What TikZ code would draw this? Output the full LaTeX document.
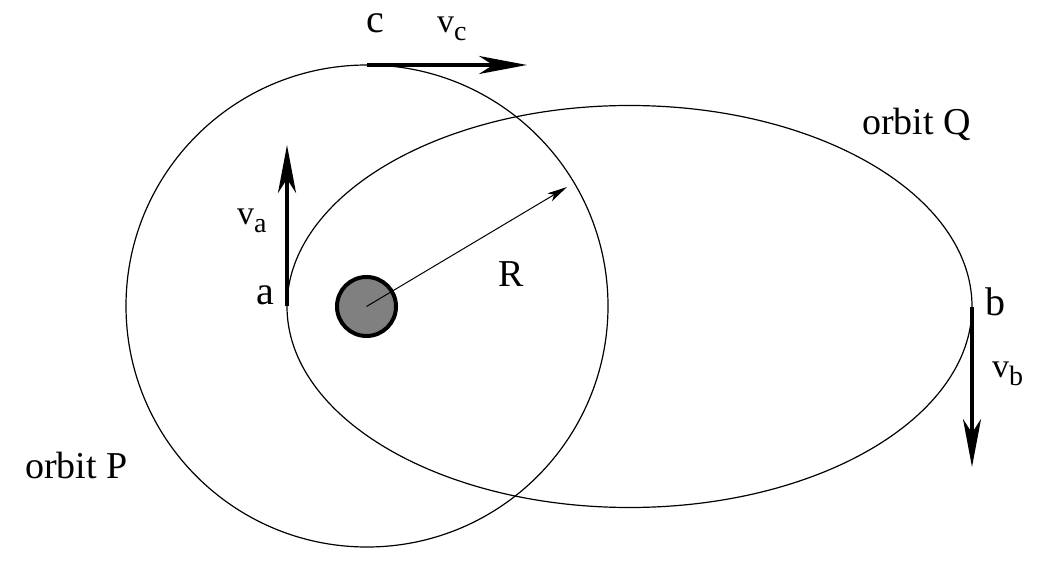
\documentclass[tikz,border=0pt]{standalone}
\usepackage{fontspec}
\setmainfont{Liberation Serif}
\usetikzlibrary{arrows.meta, positioning}
\tikzset{
x=1pt, y=-1pt, % pixel-like units, y pointing down
orbit/.style={line width=1.2pt}, % the two orbits
velocity/.style={line width=4pt, -{Stealth[length=48pt, width=18pt, inset=14pt]}}, % bold velocity vectors
radius arrow/.style={line width=1pt, -{Stealth[length=20pt, width=9pt, inset=5pt]}}, % thin radius arrow
point label/.style={inner sep=0pt, anchor=base west, font=\fontsize{40}{40}\selectfont}, % a, b, c
orbit label/.style={inner sep=0pt, anchor=base west, font=\fontsize{38}{38}\selectfont}, % orbit names and R
vel label/.style={inner sep=0pt, anchor=base west, font=\fontsize{34}{34}\selectfont}, % v with subscript
}
\newcommand{\velsub}[1]{v\raisebox{-8pt}{\fontsize{28}{28}\selectfont #1}}

\begin{document}
\begin{tikzpicture}
    \useasboundingbox (0,0) rectangle (1041,561);
    % orbits
    \draw[orbit] (367,306) circle[radius=241pt];
    \draw[orbit] (629.5,306.5) ellipse[x radius=342.5pt, y radius=201pt];
    % planet
    \node[circle, draw, line width=4pt, fill=gray, minimum size=59pt, inner sep=0pt] (planet) at (366.5,306.5) {};
    % points on the orbits
    \coordinate (a) at (287,306);
    \coordinate (b) at (972,307);
    \coordinate (c) at (367,65);
    \coordinate (va) at (287,145);
    \coordinate (vb) at (972,467);
    \coordinate (vc) at (527,65);
    \coordinate (rtip) at (567,187);
    % vectors
    \draw[velocity] (a) -- (va);
    \draw[velocity] (b) -- (vb);
    \draw[velocity] (c) -- (vc);
    \draw[radius arrow] (planet.center) -- (rtip);
    % labels
    \node[point label] (la) at (256,305) {a};
    \node[point label] (lb) at (985,315) {b};
    \node[point label] (lc) at (366,33) {c};
    \node[vel label] (lva) at (237,225) {\velsub{a}};
    \node[vel label] (lvb) at (992,377) {\velsub{b}};
    \node[vel label] (lvc) at (437,33) {\velsub{c}};
    \node[orbit label] (lr) at (498,287) {R};
    \node[orbit label] (lq) at (862,135) {orbit Q};
    \node[orbit label] (lp) at (25,478) {orbit P};
\end{tikzpicture}
\end{document}
